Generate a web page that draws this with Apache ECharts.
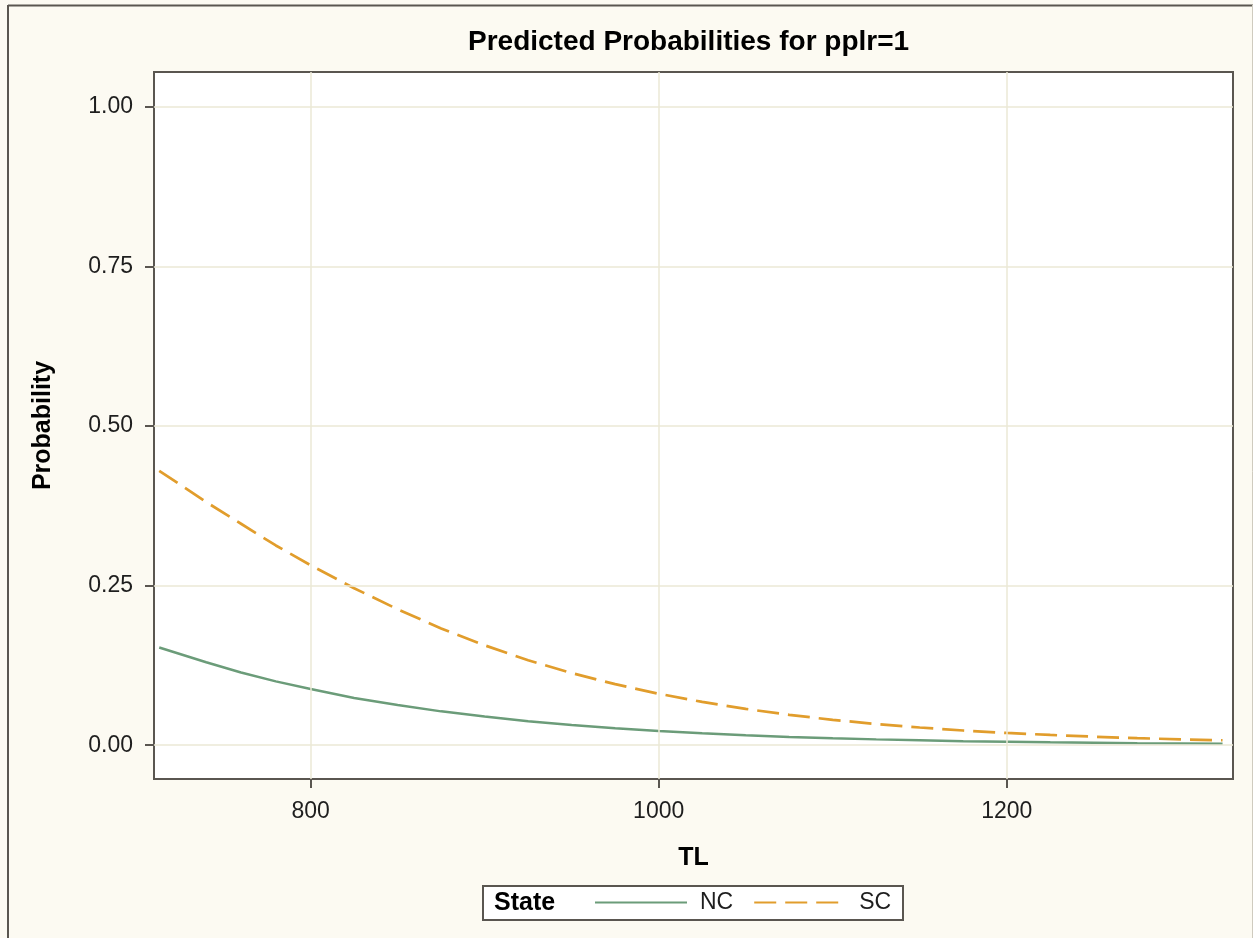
<!DOCTYPE html>
<html>
<head>
<meta charset="utf-8">
<script src="https://cdn.jsdelivr.net/npm/echarts@6/dist/echarts.min.js"></script>
<style>
  html, body { margin: 0; padding: 0; background: #fcfaf2; }
  #chart { width: 1253px; height: 938px; }
</style>
</head>
<body>
<div id="chart"></div>
<script>
// Predicted probability curves by total length (TL), one per state
const tlValues = [713, 740, 760, 780, 800, 825, 850, 875, 900, 925, 950, 975, 1000,
                  1025, 1050, 1075, 1100, 1125, 1150, 1175, 1200, 1225, 1250, 1275, 1300, 1324];
const ncProb = [0.153, 0.130, 0.114, 0.100, 0.088, 0.074, 0.063, 0.053, 0.045, 0.0375, 0.0315, 0.0264, 0.0221,
                0.0186, 0.0155, 0.0130, 0.0109, 0.0091, 0.0076, 0.0063, 0.0053, 0.0044, 0.0037, 0.0031, 0.0026, 0.0022];
const scProb = [0.430, 0.381, 0.347, 0.313, 0.282, 0.246, 0.213, 0.183, 0.1565, 0.133, 0.113, 0.0956, 0.0806,
                0.0678, 0.0568, 0.0476, 0.0397, 0.0332, 0.0277, 0.0230, 0.0192, 0.0160, 0.0133, 0.0110, 0.0091, 0.0077];
const xTickValues = [800, 1000, 1200];
const yTickValues = [0, 0.25, 0.5, 0.75, 1];
const seriesNames = ['NC', 'SC'];

const FONT = '"Liberation Sans", Arial, sans-serif';
const INK = '#1e1e1e';
const FRAME = '#5a5650';
const GRID_LINE = '#ebe8d6';

// reference lines at every labelled tick, placed through the axes' own scales
const gridLines = xTickValues.map(v => ({ xAxis: v })).concat(yTickValues.map(v => ({ yAxis: v })));

const chart = echarts.init(document.getElementById('chart'), null, { renderer: 'canvas' });

chart.setOption({
  backgroundColor: '#fcfaf2',
  animation: false,
  title: {
    text: 'Predicted Probabilities for pplr=1',
    left: 468,
    top: 28,
    padding: 0,
    textStyle: { fontFamily: FONT, fontWeight: 'bold', fontSize: 28, color: '#000' }
  },
  grid: {
    left: 154, top: 72, width: 1079, height: 707,
    show: true,
    backgroundColor: '#ffffff',
    borderColor: FRAME,
    borderWidth: 2
  },
  xAxis: {
    type: 'value',
    min: 710, max: 1330,
    name: 'TL',
    nameLocation: 'middle',
    nameGap: 67,
    nameTextStyle: { fontFamily: FONT, fontWeight: 'bold', fontSize: 25, color: '#000' },
    axisLine: { show: false, onZero: false },
    axisTick: { show: true, length: 9, customValues: xTickValues, lineStyle: { color: FRAME, width: 2 } },
    axisLabel: {
      customValues: xTickValues, margin: 21, fontFamily: FONT, fontSize: 23, color: INK,
      formatter: v => String(v)
    },
    splitLine: { show: false }
  },
  yAxis: {
    type: 'value',
    min: -0.053, max: 1.055,
    name: 'Probability',
    nameLocation: 'middle',
    nameGap: 98,
    nameTextStyle: { fontFamily: FONT, fontWeight: 'bold', fontSize: 25, color: '#000' },
    axisLine: { show: false, onZero: false },
    axisTick: { show: true, length: 9, customValues: yTickValues, lineStyle: { color: FRAME, width: 2 } },
    axisLabel: {
      customValues: yTickValues, margin: 21, fontFamily: FONT, fontSize: 23, color: INK,
      formatter: v => v.toFixed(2)
    },
    splitLine: { show: false }
  },
  legend: {
    data: seriesNames,
    left: 594,
    top: 891,
    padding: 0,
    itemWidth: 92,
    itemHeight: 2,
    itemGap: 20,
    itemStyle: { opacity: 0 },
    textStyle: { fontFamily: FONT, fontSize: 23, color: INK, padding: [0, 0, 0, 8] }
  },
  graphic: [
    { type: 'line', silent: true, z: 100, shape: { x1: 8, y1: 5.5, x2: 1253, y2: 5.5 }, style: { stroke: FRAME, lineWidth: 2 } },
    { type: 'line', silent: true, z: 100, shape: { x1: 8, y1: 5, x2: 8, y2: 938 }, style: { stroke: FRAME, lineWidth: 2 } },
    { type: 'line', silent: true, z: 100, shape: { x1: 1252.5, y1: 5, x2: 1252.5, y2: 938 }, style: { stroke: '#cfcbbf', lineWidth: 1 } },
    { type: 'rect', silent: true, z: 0, shape: { x: 483, y: 886, width: 420, height: 34 },
      style: { fill: '#ffffff', stroke: FRAME, lineWidth: 2 } },
    { type: 'text', silent: true, z: 1, x: 494, y: 903,
      style: { text: 'State', font: 'bold 25px ' + FONT, fill: '#000', verticalAlign: 'middle' } }
  ],
  series: [
    {
      name: 'grid',
      type: 'line',
      data: [],
      z: 1,
      silent: true,
      markLine: {
        silent: true,
        symbol: ['none', 'none'],
        label: { show: false },
        lineStyle: { color: GRID_LINE, width: 1.5, type: 'solid' },
        emphasis: { disabled: true },
        animation: false,
        data: gridLines
      }
    },
    {
      name: 'NC',
      type: 'line',
      z: 3,
      symbol: 'none',
      data: tlValues.map((t, i) => [t, ncProb[i]]),
      lineStyle: { color: '#6b9c79', width: 2.5 },
      itemStyle: { color: '#6b9c79' }
    },
    {
      name: 'SC',
      type: 'line',
      z: 3,
      symbol: 'none',
      data: tlValues.map((t, i) => [t, scProb[i]]),
      lineStyle: { color: '#e19d2c', width: 2.7, type: [22, 9] },
      itemStyle: { color: '#e19d2c' }
    }
  ]
});
</script>
</body>
</html>
